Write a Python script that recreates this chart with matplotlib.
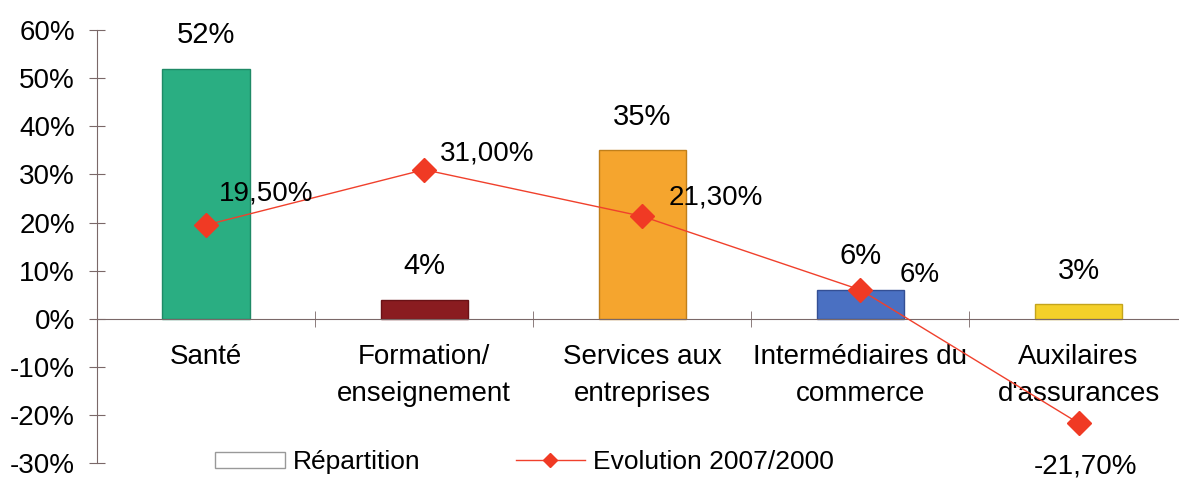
import numpy as np
import matplotlib.pyplot as plt
from matplotlib.patches import Patch
from matplotlib.lines import Line2D

plt.rcParams['font.family'] = ['Liberation Sans', 'DejaVu Sans']

categories = ['Santé', 'Formation/\nenseignement', 'Services aux\nentreprises',
              'Intermédiaires du\ncommerce', "Auxilaires\nd'assurances"]
repartition = [52, 4, 35, 6, 3]
evolution = [19.5, 31.0, 21.3, 6.0, -21.7]
evolution_labels = ['19,50%', '31,00%', '21,30%', '6%', '-21,70%']
bar_colors = ['#2aae82', '#8a1c20', '#f5a52e', '#4a70c2', '#f4d02a']
edge_colors = ['#1f8a66', '#6a1216', '#c07f1a', '#344f94', '#c4a41c']
y_ticks = np.arange(-30, 61, 10)

fs = 20

fig = plt.figure(figsize=(11.79, 4.79), dpi=100)
ax = fig.add_axes([0.0823, 0.0334, 0.925, 0.9035])

x = np.arange(len(categories))
ax.bar(x, repartition, width=0.4, color=bar_colors, edgecolor=edge_colors, linewidth=1, zorder=2)
ax.plot(x, evolution, color='#f0402c', lw=1, marker='D', markersize=12,
        markerfacecolor='#f03a24', markeredgecolor='#f03a24', zorder=3)

# etiquettes des barres
for xi, v in zip(x, repartition):
    ax.text(xi, v + 7, f'{v}%', ha='center', va='center', fontsize=fs + 1)

# etiquettes de la courbe (decalage a la main)
offsets = [(0.06, 6.6), (0.073, 3.3), (0.12, 4.0), (0.18, 3.0), (0.03, -9.0)]
for xi, v, lab, (dx, dy) in zip(x, evolution, evolution_labels, offsets):
    ha = 'center' if xi == 4 else 'left'
    ax.text(xi + dx, v + dy, lab, ha=ha, va='center', fontsize=fs)

ax.set_xlim(-0.5, 4.5)
ax.set_ylim(-30, 60)
ax.set_yticks(y_ticks)
ax.set_yticklabels([f'{t}%' for t in y_ticks], fontsize=fs)

ax.spines['top'].set_visible(False)
ax.spines['right'].set_visible(False)
ax.spines['bottom'].set_position(('data', 0))
for s in ['left', 'bottom']:
    ax.spines[s].set_color('#7a6868')
ax.tick_params(axis='y', direction='inout', length=12, color='#7a6868', pad=10)

ax.set_xticks(x)
ax.set_xticklabels(categories, fontsize=fs, linespacing=1.55, va='top')
ax.set_xticks(np.arange(0.5, 4.5, 1), minor=True)
ax.tick_params(axis='x', which='major', length=0, pad=18)
ax.tick_params(axis='x', which='minor', direction='inout', length=12, color='#7a6868')

handles = [Patch(facecolor='white', edgecolor='#999999', linewidth=1),
           Line2D([0], [0], color='#f0402c', lw=1, marker='D', markersize=7,
                  markerfacecolor='#f03a24', markeredgecolor='#f03a24')]
fig.legend(handles, ['Répartition', 'Evolution 2007/2000'], loc='center',
           bbox_to_anchor=(0.445, 0.035), ncol=2, frameon=False, fontsize=19,
           handlelength=2.65, handleheight=0.6, columnspacing=3.6, handletextpad=0.3)

fig.savefig('out.png', dpi=100)
